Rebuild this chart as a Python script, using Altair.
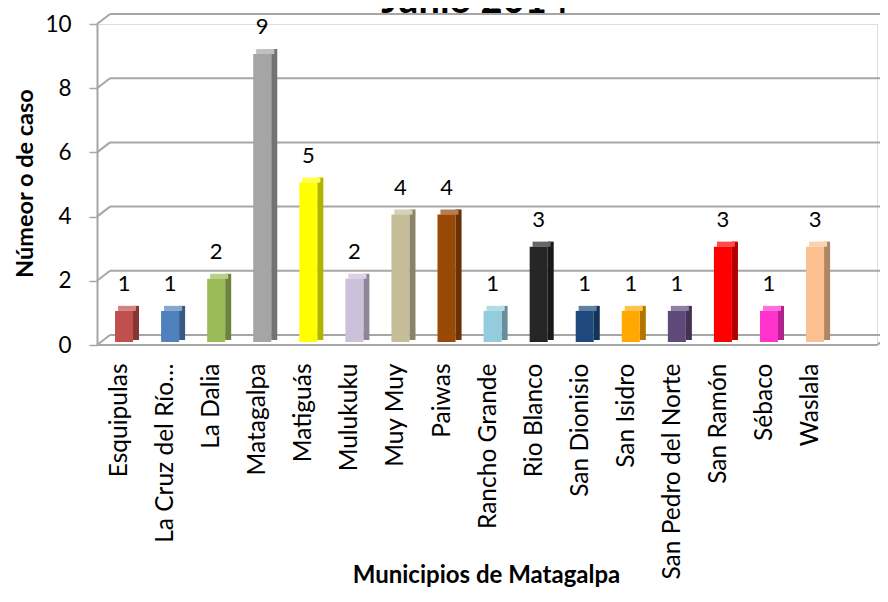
import altair as alt
import pandas as pd

municipios = ["Esquipulas", "La Cruz del Río…", "La Dalia", "Matagalpa", "Matiguás",
              "Mulukuku", "Muy Muy", "Paiwas", "Rancho Grande", "Rio Blanco",
              "San Dionisio", "San Isidro", "San Pedro del Norte", "San Ramón",
              "Sébaco", "Waslala"]
casos = [1, 1, 2, 9, 5, 2, 4, 4, 1, 3, 1, 1, 1, 3, 1, 3]
colores = ["#C0504D", "#4F81BD", "#9BBB59", "#A5A5A5", "#FFFF00", "#CCC0DA",
           "#C4BD97", "#984807", "#93CDDD", "#262626", "#1F497D", "#FFA800",
           "#5F497A", "#FF0000", "#FF33CC", "#FAC090"]
ticks_y = [0, 2, 4, 6, 8, 10]

titulo = "Junio 2014"
titulo_y = "Númeor o de caso"
titulo_x = "Municipios de Matagalpa"

FONT = "Lato"
W, H = 780, 321
DX, DY = 13, -10
GRID = "#A6A6A6"

df = pd.DataFrame({"municipio": municipios, "casos": casos})
grid_df = pd.DataFrame({"casos": ticks_y})

xscale = alt.Scale(domain=municipios, paddingInner=0.609, paddingOuter=0.77, align=0.254)
yscale = alt.Scale(domain=[0, 10], nice=False, zero=True)
cscale = alt.Scale(domain=municipios, range=colores)

x_axis = alt.Axis(title=titulo_x, labelAngle=270, labelFontSize=24.5, labelFont=FONT,
                  labelColor="black", labelPadding=18, labelOffset=-4,
                  domain=False, ticks=False, labelLimit=300,
                  titleFont=FONT, titleFontSize=24, titleFontWeight="bold",
                  titleColor="black", titleX=389, titleY=237,
                  titleBaseline="alphabetic", titleAnchor="middle")
y_axis = alt.Axis(title=titulo_y, values=ticks_y, grid=False,
                  labelFontSize=22.5, labelFont=FONT, labelColor="black",
                  labelPadding=18, tickSize=8, tickColor=GRID, tickWidth=1.5,
                  domainColor=GRID, domainWidth=2,
                  titleFont=FONT, titleFontSize=23.5, titleFontWeight="bold",
                  titleColor="black", titleAngle=270, titleX=-60, titleY=159,
                  titleBaseline="bottom", titleAnchor="middle")

x_enc = alt.X("municipio:N", sort=municipios, scale=xscale, axis=x_axis)
y_enc = alt.Y("casos:Q", scale=yscale, axis=y_axis)
color_enc = alt.Color("municipio:N", scale=cscale, legend=None)

# 3D grid: back wall lines and diagonal connectors
grid_back = alt.Chart(grid_df).mark_rule(color=GRID, strokeWidth=2, yOffset=DY, y2Offset=DY).encode(
    y=y_enc, y2="casos:Q",
    x=alt.value(DX), x2=alt.value(W + DX + 10))
grid_diag = alt.Chart(grid_df).mark_rule(color=GRID, strokeWidth=2, y2Offset=DY).encode(
    y=y_enc, y2="casos:Q",
    x=alt.value(0), x2=alt.value(DX))
floor_df = pd.DataFrame({"casos": [0]})
floor_front = alt.Chart(floor_df).mark_rule(color=GRID, strokeWidth=2).encode(
    y=y_enc, x=alt.value(0), x2=alt.value(W))
floor_side = alt.Chart(floor_df).mark_rule(color=GRID, strokeWidth=2, y2Offset=DY).encode(
    y=y_enc, y2="casos:Q", x=alt.value(W), x2=alt.value(W + DX))

base = alt.Chart(df)

side = base.mark_bar(width=6, xOffset=12, yOffset=-7, y2Offset=-5).encode(
    x=x_enc, y=y_enc, y2=alt.datum(0), color=color_enc)
side_shade = base.mark_bar(width=6, xOffset=12, yOffset=-7, y2Offset=-5, color="black", opacity=0.3).encode(
    x=x_enc, y=y_enc, y2=alt.datum(0))
top = base.mark_bar(width=18, xOffset=3, yOffset=-7, y2Offset=-2).encode(
    x=x_enc, y=y_enc, y2="casos:Q", color=color_enc)
top_light = base.mark_bar(width=18, xOffset=3, yOffset=-7, y2Offset=-2, color="white", opacity=0.3).encode(
    x=x_enc, y=y_enc, y2="casos:Q")
front = base.mark_bar(yOffset=-2, y2Offset=-3).encode(
    x=x_enc, y=y_enc, y2=alt.datum(0), color=color_enc)
labels = base.mark_text(dy=-22, baseline="alphabetic", fontSize=22, font=FONT, color="black").encode(
    x=x_enc, y=y_enc, text="casos:Q")

title_df = pd.DataFrame({"t": [titulo]})
title = alt.Chart(title_df).mark_text(fontSize=38, font=FONT, fontWeight="bold", color="black",
                                      baseline="alphabetic", align="center").encode(
    text="t:N", x=alt.value(378), y=alt.value(-11))

chart = alt.layer(grid_back, grid_diag, floor_front, floor_side, side, side_shade, top, top_light,
                  front, labels, title).properties(
    width=W, height=H,
    autosize=alt.AutoSizeParams(type="none"),
    padding={"left": 89, "top": 16, "right": 3, "bottom": 243},
).configure_view(stroke=None).configure(background="white")

chart.save("out.html", embed_options={"renderer": "svg", "actions": False})
